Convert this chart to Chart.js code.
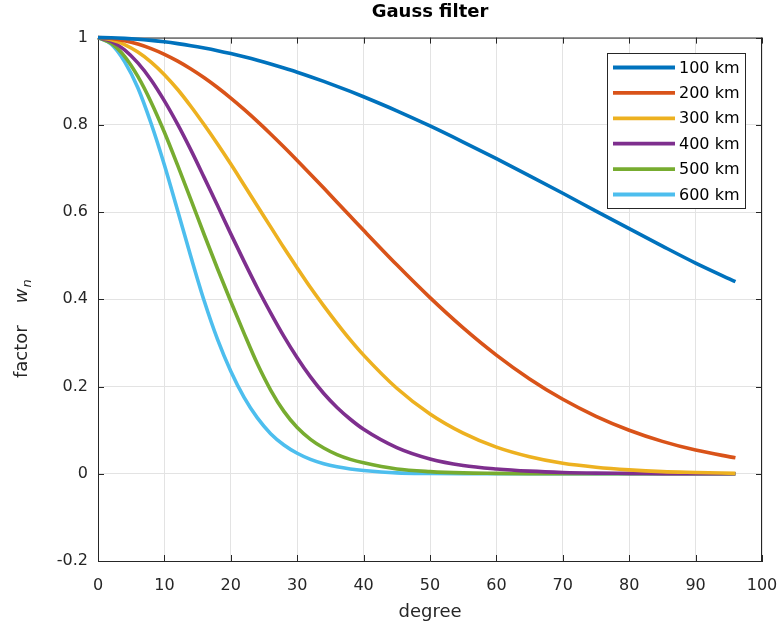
<!DOCTYPE html>
<html>
<head>
<meta charset="utf-8">
<script src="https://cdn.jsdelivr.net/npm/chart.js@4.4.0/dist/chart.umd.min.js"></script>
<style>
html,body{margin:0;padding:0;background:#fff;}
#wrap{width:779px;height:630px;}
</style>
</head>
<body>
<div id="wrap"><canvas id="c" width="779" height="630"></canvas></div>
<script>
// ---- data ----
const degrees = [0,2,4,6,8,10,12,14,16,18,20,22,24,26,28,30,32,34,36,38,40,45,50,55,60,65,70,75,80,85,90,96];
const w100 = [1,0.9995,0.9982,0.9963,0.9936,0.9903,0.9862,0.9815,0.9761,0.9701,0.9634,0.9560,0.9481,0.9395,0.9303,0.9207,0.9104,0.8996,0.8883,0.8766,0.8643,0.8321,0.7974,0.7605,0.7223,0.6832,0.6431,0.6023,0.5619,0.5219,0.4830,0.4403];
const w200 = [1,0.9979,0.9929,0.9852,0.9747,0.9616,0.9460,0.9280,0.9078,0.8855,0.8613,0.8353,0.8079,0.7791,0.7492,0.7184,0.6869,0.6550,0.6227,0.5904,0.5581,0.4790,0.4038,0.3345,0.2721,0.2175,0.1708,0.1318,0.0999,0.0743,0.0543,0.0365];
const w300 = [1,0.995,0.984,0.967,0.944,0.915,0.881,0.842,0.800,0.756,0.710,0.662,0.614,0.566,0.518,0.472,0.427,0.385,0.345,0.307,0.272,0.196,0.137,0.093,0.061,0.039,0.024,0.015,0.009,0.005,0.003,0.001];
const w400 = [1,0.9915,0.972,0.942,0.903,0.855,0.801,0.742,0.679,0.615,0.550,0.487,0.426,0.369,0.315,0.266,0.222,0.184,0.152,0.125,0.102,0.060,0.034,0.019,0.011,0.006,0.003,0.0015,0.001,0.0004,0.0002,0.0001];
const w500 = [1,0.987,0.957,0.911,0.852,0.783,0.707,0.628,0.548,0.470,0.395,0.322,0.252,0.192,0.143,0.106,0.079,0.059,0.044,0.033,0.025,0.011,0.005,0.002,0.001,0.0003,0,0,0,0,0,0];
const w600 = [1,0.985,0.945,0.885,0.803,0.708,0.603,0.497,0.396,0.308,0.235,0.175,0.128,0.092,0.066,0.047,0.033,0.023,0.016,0.011,0.0075,0.002,0.0005,0,0,0,0,0,0,0,0,0];
const seriesLabels = ['100 km','200 km','300 km','400 km','500 km','600 km'];
const seriesColors = ['#0072BD','#D95319','#EDB120','#7E2F8E','#77AC30','#4DBEEE'];
const xTicks = [0,10,20,30,40,50,60,70,80,90,100];
const yTicks = [-0.2,0,0.2,0.4,0.6,0.8,1];
const chartTitle = 'Gauss filter';
const xLabel = 'degree';

const FONT = "'DejaVu Sans', 'Liberation Sans', Arial, sans-serif";
const AXIS = '#262626';

const allSeries = [w100,w200,w300,w400,w500,w600];
const datasets = allSeries.map((s,i)=>({
  label: seriesLabels[i],
  data: degrees.map((d,j)=>({x:d,y:s[j]})),
  borderColor: seriesColors[i],
  backgroundColor: seriesColors[i],
  borderWidth: 3.6,
  pointRadius: 0,
  fill: false,
  cubicInterpolationMode: 'monotone',
  clip: false
}));

// box, inward ticks
const boxPlugin = {
  id: 'box',
  beforeDatasetsDraw(chart){
    const {ctx, chartArea:a, scales:{x,y}} = chart;
    ctx.save();
    ctx.strokeStyle = AXIS; ctx.lineWidth = 1;
    ctx.beginPath();
    ctx.moveTo(a.left, a.top+0.5); ctx.lineTo(a.right, a.top+0.5);
    ctx.moveTo(a.right-0.5, a.top); ctx.lineTo(a.right-0.5, a.bottom);
    xTicks.forEach(v=>{
      const px = Math.round(x.getPixelForValue(v))+0.5;
      ctx.moveTo(px, a.bottom); ctx.lineTo(px, a.bottom-6);
      ctx.moveTo(px, a.top); ctx.lineTo(px, a.top+6);
    });
    yTicks.forEach(v=>{
      const py = Math.round(y.getPixelForValue(v))+0.5;
      ctx.moveTo(a.left, py); ctx.lineTo(a.left+6, py);
      ctx.moveTo(a.right, py); ctx.lineTo(a.right-6, py);
    });
    ctx.stroke();
    ctx.restore();
  }
};

// legend box drawn from the dataset labels/colors
const legendPlugin = {
  id: 'boxLegend',
  afterDatasetsDraw(chart){
    const {ctx} = chart;
    const bx = 607.5, by = 53.5, bw = 138, bh = 155;
    ctx.save();
    ctx.fillStyle = '#fff';
    ctx.fillRect(bx, by, bw, bh);
    ctx.strokeStyle = AXIS; ctx.lineWidth = 1;
    ctx.strokeRect(bx, by, bw, bh);
    ctx.font = "16px " + FONT;
    ctx.textBaseline = 'middle';
    ctx.textAlign = 'left';
    chart.data.datasets.forEach((ds,i)=>{
      const yy = 67.5 + i*25.4;
      ctx.strokeStyle = ds.borderColor; ctx.lineWidth = 3.8;
      ctx.beginPath(); ctx.moveTo(613, yy); ctx.lineTo(675, yy); ctx.stroke();
      ctx.fillStyle = '#000';
      ctx.fillText(ds.label, 679, yy+1);
    });
    ctx.restore();
  }
};

// y-axis label "factor  w_n" with italic w and subscript n
const yLabelPlugin = {
  id: 'yLabel',
  afterDraw(chart){
    const {ctx} = chart;
    ctx.save();
    ctx.translate(22, 315);
    ctx.rotate(-Math.PI/2);
    ctx.fillStyle = AXIS;
    ctx.textBaseline = 'middle';
    ctx.textAlign = 'left';
    let tx = -63;
    ctx.font = "18px " + FONT;
    ctx.fillText('factor', tx, 0);
    tx += ctx.measureText('factor').width + 22;
    ctx.font = "italic 18px " + FONT;
    ctx.fillText('w', tx, 0);
    tx += ctx.measureText('w').width + 1;
    ctx.font = "italic 13px " + FONT;
    ctx.fillText('n', tx, 6);
    ctx.restore();
  }
};

new Chart(document.getElementById('c'), {
  type: 'line',
  data: { datasets },
  options: {
    responsive: false,
    animation: false,
    devicePixelRatio: 1,
    layout: { padding: { left: 0, right: 17, top: 0, bottom: 0 } },
    plugins: {
      legend: { display: false },
      tooltip: { enabled: false },
      title: {
        display: true, text: chartTitle, fullSize: false, color: '#000',
        font: { family: FONT, size: 18, weight: 'bold' },
        padding: { top: 2, bottom: 14 }
      }
    },
    scales: {
      x: {
        type: 'linear', min: 0, max: 100,
        afterBuildTicks(s){ s.ticks = xTicks.map(v=>({value:v})); },
        afterFit(s){ s.height = 69; s.paddingLeft = 0; s.paddingRight = 0; },
        ticks: { color: AXIS, font: { family: FONT, size: 16 }, padding: 15, maxRotation: 0,
                 callback: v => String(v) },
        grid: { color: '#e3e3e3', drawTicks: false, lineWidth: 1 },
        border: { display: true, color: AXIS, width: 1 },
        title: { display: true, text: xLabel, color: AXIS, font: { family: FONT, size: 18 },
                 padding: { top: 0, bottom: 7 } }
      },
      y: {
        type: 'linear', min: -0.2, max: 1,
        afterBuildTicks(s){ s.ticks = yTicks.map(v=>({value:v})); },
        afterFit(s){ s.width = 98; },
        ticks: { color: AXIS, font: { family: FONT, size: 16 }, padding: 10,
                 callback: v => String(Math.round(v*10)/10) },
        grid: { color: '#e3e3e3', drawTicks: false, lineWidth: 1 },
        border: { display: true, color: AXIS, width: 1 }
      }
    }
  },
  plugins: [boxPlugin, legendPlugin, yLabelPlugin]
});
</script>
</body>
</html>
